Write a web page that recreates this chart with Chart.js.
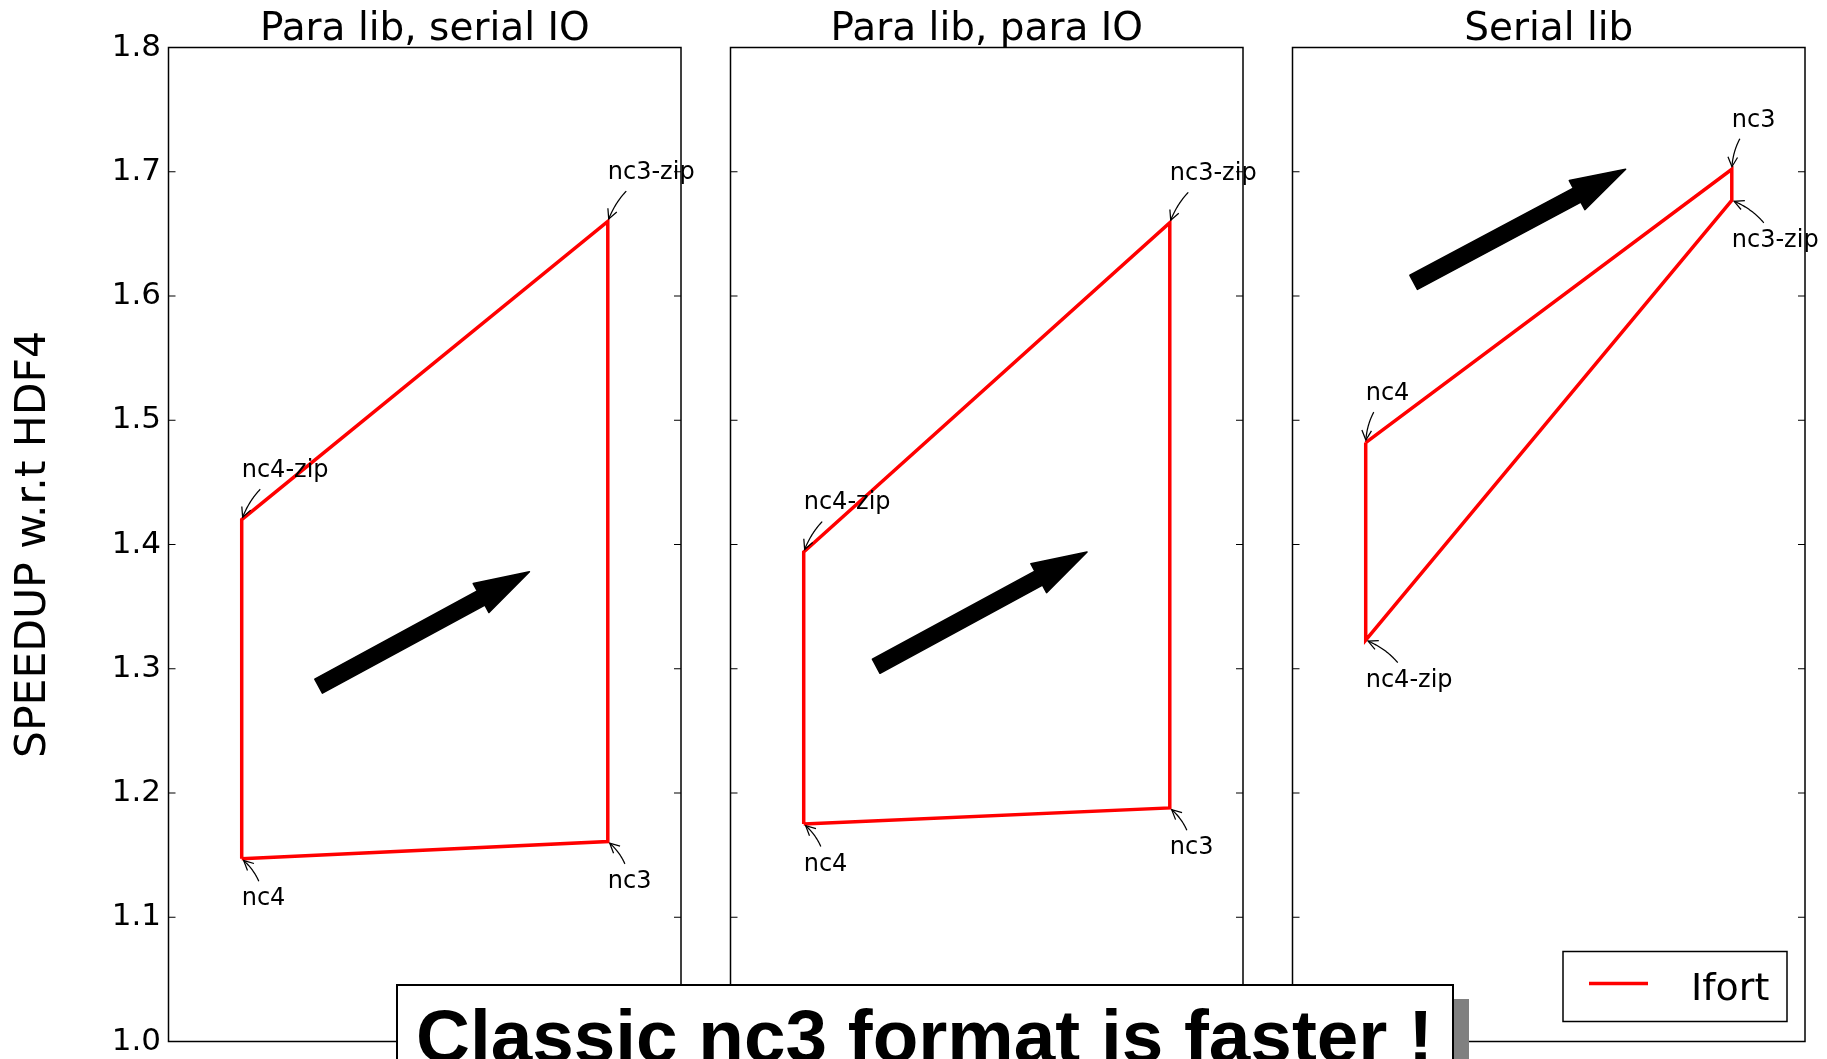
<!DOCTYPE html>
<html>
<head>
<meta charset="utf-8">
<title>SPEEDUP w.r.t HDF4</title>
<script src="https://cdn.jsdelivr.net/npm/chart.js@4.4.0/dist/chart.umd.min.js"></script>
<style>
  html, body { margin: 0; padding: 0; background: #fff; overflow: hidden; }
  #wrap { position: relative; width: 1827px; height: 1059px; overflow: hidden; background: #fff; }
  #wrap canvas { position: absolute; left: 0; top: 0; }
  #note {
    position: absolute; left: 396px; top: 984px; width: 1058px; height: 140px;
    box-sizing: border-box; border: 2px solid #000; background: #fff;
    box-shadow: 15px 15px 0 #808080;
    font: bold 74.7px/75px "Liberation Sans", Arial, sans-serif; color: #000;
    padding: 13px 0 0 18px; white-space: nowrap;
  }
</style>
</head>
<body>
<div id="wrap">
  <canvas id="p0" width="1827" height="1059"></canvas>
  <canvas id="p1" width="1827" height="1059"></canvas>
  <canvas id="p2" width="1827" height="1059"></canvas>
  <div id="note"></div>
</div>
<script>
// File formats, in the order the outline visits them
const formats = ['nc4', 'nc3', 'nc3-zip', 'nc4-zip'];
const formatX = [1, 2, 2, 1];
const outlineOrder = [0, 1, 2, 3, 0];

const panelTitles = ['Para lib, serial IO', 'Para lib, para IO', 'Serial lib'];

// Speedup relative to HDF4, per format
const speedupParaSerialIO = [1.147, 1.161, 1.660, 1.420];
const speedupParaParaIO   = [1.175, 1.188, 1.659, 1.394];
const speedupSerialLib    = [1.482, 1.702, 1.677, 1.323];

const yTickValues = [1.0, 1.1, 1.2, 1.3, 1.4, 1.5, 1.6, 1.7, 1.8];
const yTickLabels = ['1.0', '1.1', '1.2', '1.3', '1.4', '1.5', '1.6', '1.7', '1.8'];

const seriesLabel = 'Ifort';
const yAxisTitle = 'SPEEDUP w.r.t HDF4';
const noteText = 'Classic nc3 format is faster !';

// Where each format label sits: +1 above the point, -1 below
const labelSides = [[-1, -1, 1, 1], [-1, -1, 1, 1], [1, 1, -1, -1]];

// Trend arrows in data units: tail x, tail y, tip x, tip y
const trendArrows = [
  [1.210, 1.286, 1.786, 1.378],
  [1.198, 1.302, 1.774, 1.394],
  [1.131, 1.611, 1.710, 1.702]
];

const panelValues = [speedupParaSerialIO, speedupParaParaIO, speedupSerialLib];

// ---- layout (pixels) ----
const W = 1827, H = 1059;
const PLOT_TOP = 47.5, PLOT_BOTTOM = 1041.5;
const PANEL_LEFTS = [168.5, 730.5, 1292.5];
const PANEL_W = 512.5;
const FONT = '"DejaVu Sans", sans-serif';
const TITLE_SIZE = 39, TITLE_LH = 1.05, TITLE_PAD_TOP = 9;

function curvedArrow(ctx, sx, sy, ex, ey, box) {
  // quadratic arc bent like an arc3 connection with rad 0.2
  const f = 0.2;
  const cx = (sx + ex) / 2 - f * (ey - sy);
  const cy = (sy + ey) / 2 + f * (ex - sx);
  const pt = t => [
    (1 - t) * (1 - t) * sx + 2 * (1 - t) * t * cx + t * t * ex,
    (1 - t) * (1 - t) * sy + 2 * (1 - t) * t * cy + t * t * ey
  ];
  const N = 400;
  let t0 = 0, t1 = 1;
  for (let i = 0; i <= N; i++) {
    const t = i / N, [qx, qy] = pt(t);
    if (qx < box.l || qx > box.r || qy < box.t || qy > box.b) { t0 = t; break; }
  }
  for (let i = N; i >= 0; i--) {
    const t = i / N, [qx, qy] = pt(t);
    if (Math.hypot(qx - ex, qy - ey) >= 2.5) { t1 = t; break; }
  }
  ctx.beginPath();
  for (let i = 0; i <= 40; i++) {
    const [qx, qy] = pt(t0 + (t1 - t0) * i / 40);
    if (i === 0) ctx.moveTo(qx, qy); else ctx.lineTo(qx, qy);
  }
  ctx.stroke();
  const [hx, hy] = pt(t1);
  const [bx, by] = pt(t1 - 0.03);
  const ang = Math.atan2(hy - by, hx - bx);
  const L = 9.6, Wd = 4.8;
  const ux = Math.cos(ang), uy = Math.sin(ang);
  ctx.beginPath();
  ctx.moveTo(hx - ux * L - uy * Wd, hy - uy * L + ux * Wd);
  ctx.lineTo(hx, hy);
  ctx.lineTo(hx - ux * L + uy * Wd, hy - uy * L - ux * Wd);
  ctx.stroke();
}

const decorPlugin = {
  id: 'decor',
  afterDatasetsDraw(chart, args, opts) {
    const { ctx, chartArea: a, scales: { x, y } } = chart;
    const k = opts.panel;
    ctx.save();

    // frame and inward ticks on both sides
    ctx.strokeStyle = '#000';
    ctx.lineWidth = 1.5;
    ctx.strokeRect(a.left, a.top, a.right - a.left, a.bottom - a.top);
    ctx.lineWidth = 1.2;
    ctx.beginPath();
    yTickValues.forEach(v => {
      const py = y.getPixelForValue(v);
      ctx.moveTo(a.left, py); ctx.lineTo(a.left + 7, py);
      ctx.moveTo(a.right, py); ctx.lineTo(a.right - 7, py);
    });
    ctx.stroke();

    // thick trend arrow
    const [ax0, ay0, ax1, ay1] = trendArrows[k];
    const tx = x.getPixelForValue(ax0), ty = y.getPixelForValue(ay0);
    const px = x.getPixelForValue(ax1), py = y.getPixelForValue(ay1);
    const len = Math.hypot(px - tx, py - ty);
    const ux = (px - tx) / len, uy = (py - ty) / len;
    const nx = -uy, ny = ux;
    const hw = 8, HW = 16.5, HL = 55;
    const bx = px - ux * HL, by = py - uy * HL;
    ctx.fillStyle = '#000';
    ctx.lineJoin = 'round';
    ctx.lineWidth = 1.5;
    ctx.beginPath();
    ctx.moveTo(tx + nx * hw, ty + ny * hw);
    ctx.lineTo(bx + nx * hw, by + ny * hw);
    ctx.lineTo(bx + nx * HW, by + ny * HW);
    ctx.lineTo(px, py);
    ctx.lineTo(bx - nx * HW, by - ny * HW);
    ctx.lineTo(bx - nx * hw, by - ny * hw);
    ctx.lineTo(tx - nx * hw, ty - ny * hw);
    ctx.closePath();
    ctx.fill();
    ctx.stroke();

    // format labels with small curved pointers
    const vals = panelValues[k];
    ctx.font = '24px ' + FONT;
    ctx.textAlign = 'left';
    ctx.textBaseline = 'alphabetic';
    ctx.lineWidth = 1.25;
    ctx.lineJoin = 'miter';
    formats.forEach((name, i) => {
      const qx = x.getPixelForValue(formatX[i]);
      const qy = y.getPixelForValue(vals[i]);
      const side = labelSides[k][i];
      const base = side > 0 ? qy - 42.5 : qy + 46.5;
      ctx.fillStyle = '#000';
      ctx.fillText(name, qx, base);
      const w = ctx.measureText(name).width;
      const box = { l: qx - 5, r: qx + w + 5, t: base - 24, b: base + 12 };
      curvedArrow(ctx, qx + w / 2, base - 6, qx, qy, box);
    });

    // legend inside the last panel
    if (opts.legend) {
      const ds = chart.data.datasets[0];
      const lw = 224, lh = 70;
      const lx = a.right - 18 - lw, ly = a.bottom - 20 - lh;
      ctx.fillStyle = '#fff';
      ctx.fillRect(lx, ly, lw, lh);
      ctx.strokeStyle = '#000';
      ctx.lineWidth = 1.5;
      ctx.strokeRect(lx, ly, lw, lh);
      ctx.strokeStyle = ds.borderColor;
      ctx.lineWidth = ds.borderWidth;
      ctx.beginPath();
      ctx.moveTo(lx + 26, ly + 32);
      ctx.lineTo(lx + 85, ly + 32);
      ctx.stroke();
      ctx.fillStyle = '#000';
      ctx.font = '38px ' + FONT;
      ctx.fillText(ds.label, lx + 128, ly + 48);
    }
    ctx.restore();
  }
};

function makePanel(k) {
  const vals = panelValues[k];
  const left = PANEL_LEFTS[k];
  const right = left + PANEL_W;
  const first = k === 0;
  return new Chart(document.getElementById('p' + k), {
    type: 'line',
    data: {
      datasets: [{
        label: seriesLabel,
        data: outlineOrder.map(i => ({ x: formatX[i], y: vals[i] })),
        borderColor: '#ff0000',
        borderWidth: 3.5,
        pointRadius: 0,
        fill: false,
        tension: 0
      }]
    },
    options: {
      responsive: false,
      animation: false,
      devicePixelRatio: 1,
      layout: {
        padding: { left: first ? 0 : left, right: W - right, top: 0, bottom: H - PLOT_BOTTOM }
      },
      scales: {
        x: { type: 'linear', min: 0.8, max: 2.2, display: false },
        y: {
          type: 'linear', min: 1.0, max: 1.8,
          display: first,
          afterBuildTicks: s => { s.ticks = yTickValues.map(v => ({ value: v })); },
          afterFit: s => {
            s.width = first ? left : 0;
            s.paddingTop = 0;
            s.paddingBottom = 0;
          },
          ticks: {
            font: { family: FONT, size: 31 },
            color: '#000',
            padding: 7.5,
            callback: (v, i) => yTickLabels[i]
          },
          grid: { display: false, drawTicks: false },
          border: { display: false },
          title: {
            display: first,
            text: yAxisTitle,
            color: '#000',
            font: { family: FONT, size: 42.5 },
            padding: { top: 8, bottom: 0 }
          }
        }
      },
      plugins: {
        legend: { display: false },
        tooltip: { enabled: false },
        title: {
          display: true,
          text: panelTitles[k],
          fullSize: false,
          color: '#000',
          font: { family: FONT, size: TITLE_SIZE, weight: 'normal', lineHeight: TITLE_LH },
          padding: { top: TITLE_PAD_TOP, bottom: PLOT_TOP - TITLE_PAD_TOP - TITLE_SIZE * TITLE_LH }
        },
        decor: { panel: k, legend: k === 2 }
      }
    },
    plugins: [decorPlugin]
  });
}

document.getElementById('note').textContent = noteText;
[0, 1, 2].forEach(makePanel);
</script>
</body>
</html>
